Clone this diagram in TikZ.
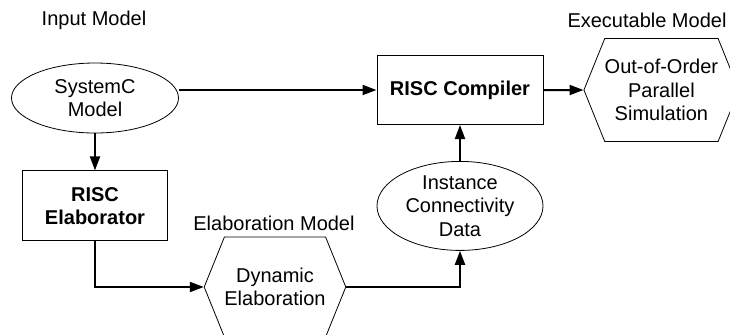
\documentclass[tikz,border=0pt]{standalone}
\usepackage{fontspec}
\setmainfont{Liberation Sans}
\usepackage{tikz}
\usetikzlibrary{positioning, arrows.meta, shapes.geometric, shapes.symbols}

\begin{document}
\begin{tikzpicture}[
      x=1pt, y=1pt,
      node distance=18pt,
      txt/.style={align=center, inner sep=0pt, font=\fontsize{10}{11.75}\selectfont},
      box/.style={txt, draw, line width=0.5pt, font=\fontsize{10}{11.75}\selectfont\bfseries},
      oval/.style={txt, draw, ellipse, line width=0.4pt},
      hexa/.style={txt, draw, signal, signal to=west and east, signal pointer angle=136, line width=0.4pt},
      arr/.style={draw, line width=1pt, -{Triangle[length=7pt, width=5pt]}}
    ]
    \useasboundingbox (0,0) rectangle (365,-167);
    \clip (0,0) rectangle (365,-167);

    \node[oval, minimum width=83.5pt, minimum height=35pt] (sc) at (47.5,-49) {SystemC\\Model};
    \node[box, below=18.5pt of sc, minimum width=72.5pt, minimum height=35pt] (elab) {RISC\\Elaborator};
    \node[hexa, minimum width=67pt, minimum height=50pt] (dyn) at (137.5,-143.5) {Dynamic\\Elaboration};

    \node[box, minimum width=83pt, minimum height=34.5pt] (comp) at (230,-45) {RISC Compiler};
    \node[oval, below=18pt of comp, minimum width=83pt, minimum height=44.5pt] (inst) {Instance\\Connectivity\\Data};
    \node[hexa, right=20pt of comp, minimum width=67pt, minimum height=51.5pt] (ooo) {Out-of-Order\\Parallel\\Simulation};

    % model labels
    \node[txt] (inlbl) at (47,-10) {Input Model};
    \node[txt] (ellbl) at (137,-111.5) {Elaboration Model};
    \node[txt] (exlbl) at (323.5,-10) {Executable Model};

    \draw[arr] (sc.east |- comp.west) -- (comp.west);
    \draw[arr] (sc) -- (elab);
    \draw[arr] (elab.south) |- (dyn.west);
    \draw[arr] (dyn.east) -| (inst.south);
    \draw[arr] (inst) -- (comp);
    \draw[arr] (comp) -- (ooo);
  \end{tikzpicture}
\end{document}
